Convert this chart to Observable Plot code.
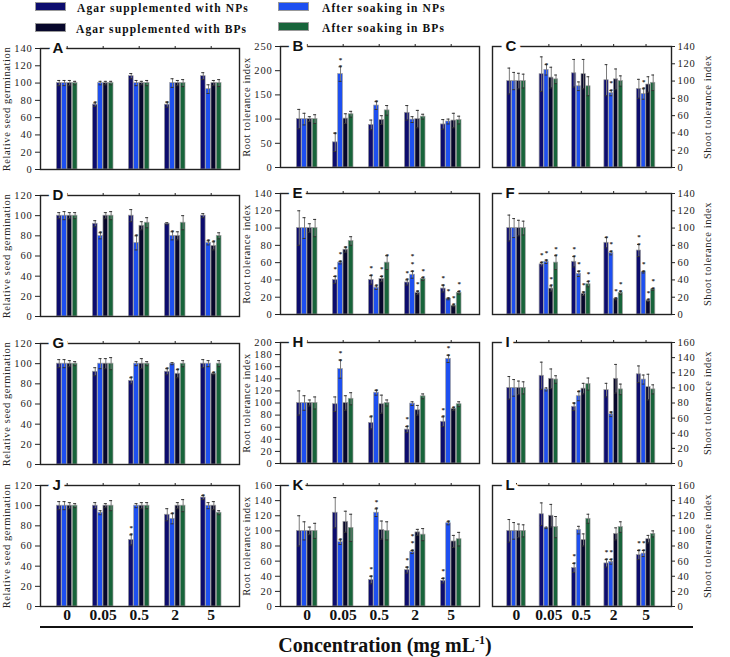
<!DOCTYPE html>
<html><head><meta charset="utf-8">
<script src="https://cdn.jsdelivr.net/npm/d3@7"></script>
<script src="https://cdn.jsdelivr.net/npm/@observablehq/plot@0.6"></script>
<style>
body{margin:0;background:#fff;}
#wrap{position:relative;width:730px;height:657px;overflow:hidden;background:#fff;font-family:"Liberation Serif",serif;}
.pnl{position:absolute;}
.pnl g[aria-label="y-axis tick label"] text{letter-spacing:0.8px;}
.pnl g[aria-label="y-axis label"] text{letter-spacing:0.6px;}
.lg-sw{position:absolute;width:31px;height:9px;border:1px solid #999;box-sizing:border-box;}
.lg-tx{position:absolute;font:bold 11.5px "Liberation Serif",serif;letter-spacing:1.1px;line-height:12px;white-space:nowrap;color:#111;}
#axline{position:absolute;left:40px;top:626px;width:653px;height:0;border-top:2px solid #111;}
#xtitle{position:absolute;left:0;width:770px;top:633px;text-align:center;font:bold 20px "Liberation Serif",serif;color:#111;white-space:nowrap;}
</style></head><body><div id="wrap"></div>
<script>
// ---- categories / series ----
const concentrations = ["0", "0.05", "0.5", "2", "5"];
const series = ["Agar supplemented with NPs", "After soaking in NPs", "Agar supplemented with BPs", "After soaking in BPs"];
const seriesColors = ["#0c0c6e", "#1d4ff0", "#07072b", "#17643a"];
const yLabels = ["Relative seed germination", "Root tolerance index", "Shoot tolerance index"];

// ---- values: [group][series] ----
const A_mean = [[100,100,100,100],[75,100,100,100],[108,100,100,100],[75,100,100,100],[108,93,100,100]];
const A_err  = [[3,3,3,2],[2,2,2,2],[3,3,2,3],[3,5,3,4],[4,5,3,4]];
const A_sig  = [[0,0,0,0],[1,0,0,0],[0,0,0,0],[1,0,0,0],[0,0,0,0]];

const B_mean = [[100,100,100,100],[52,193,101,110],[88,128,98,118],[113,99,100,105],[89,95,97,98]];
const B_err  = [[20,12,5,9],[19,15,10,6],[10,8,9,10],[15,6,18,5],[10,5,15,8]];
const B_sig  = [[0,0,0,0],[1,2,0,0],[0,1,0,0],[0,0,0,0],[0,0,0,0]];

const C_mean = [[100,100,100,100],[108,113,104,102],[109,94,108,94],[101,86,102,100],[91,85,96,98]];
const C_err  = [[15,10,9,8],[20,6,12,5],[16,5,17,11],[18,3,12,6],[11,6,9,9]];
const C_sig  = [[0,0,0,0],[0,1,0,0],[0,0,0,0],[0,2,0,0],[0,2,0,0]];

const D_mean = [[100,100,100,100],[92,80,100,100],[100,73,90,93],[92,80,80,93],[100,73,70,80]];
const D_err  = [[3,4,3,3],[3,3,3,4],[6,7,4,5],[1,4,4,7],[2,2,4,3]];
const D_sig  = [[0,0,0,0],[0,1,0,0],[0,1,0,0],[0,1,0,0],[0,1,1,0]];

const E_mean = [[100,100,100,100],[40,60,75,85],[40,31,41,60],[37,46,25,41],[30,18,10,25]];
const E_err  = [[20,12,5,10],[4,1.5,3,5],[5,2,3,8],[3,4,2,1.5],[4,1,1,1.5]];
const E_sig  = [[0,0,0,0],[2,2,1,0],[2,1,2,1],[2,3,2,2],[2,2,2,2]];

const F_mean = [[100,100,100,100],[58,61,30,60],[61,47,24,35],[83,71,18,25],[74,49,16,29]];
const F_err  = [[15,11,9,8],[2,2,3,8],[6,3,2,3],[6,2,1,2],[7,1,1,1]];
const F_sig  = [[0,0,0,0],[2,2,2,2],[2,2,2,2],[1,2,2,2],[2,2,2,2]];

const G_mean = [[100,100,100,100],[92,100,100,100],[83,100,100,100],[92,100,90,100],[100,100,90,100]];
const G_err  = [[4,4,3,2],[4,5,5,6],[3,2,5,2],[3,1,4,3],[4,3,1,3]];
const G_sig  = [[0,0,0,0],[0,0,0,0],[1,0,0,0],[1,0,1,0],[0,0,1,0]];

const H_mean = [[100,100,100,100],[98,156,100,107],[67,117,98,100],[56,99,88,111],[69,173,90,98]];
const H_err  = [[20,12,5,10],[12,15,12,10],[10,4,15,5],[5,3,8,4],[8,6,2,4]];
const H_sig  = [[0,0,0,0],[0,2,0,0],[1,1,0,0],[2,0,0,0],[2,2,1,0]];

const I_mean = [[100,100,100,100],[116,98,112,111],[75,89,99,105],[97,65,112,98],[118,111,101,98]];
const I_err  = [[15,11,9,8],[18,2,13,5],[5,6,7,8],[9,3,19,7],[11,6,17,6]];
const I_sig  = [[0,0,0,0],[0,0,0,0],[1,1,0,0],[0,1,0,0],[0,0,0,0]];

const J_mean = [[100,100,100,100],[100,93,100,100],[66,100,100,100],[91,87,100,100],[108,100,100,93]];
const J_err  = [[4,4,3,2],[3,2,2,5],[5,2,3,3],[6,5,3,6],[2,3,4,2]];
const J_sig  = [[0,0,0,0],[0,0,0,0],[2,0,0,0],[0,1,0,0],[1,0,0,0]];

const K_mean = [[100,100,100,100],[124,85,112,104],[35,124,101,100],[48,72,98,95],[34,110,86,89]];
const K_err  = [[20,12,5,10],[20,3,14,18],[5,5,12,12],[4,2,4,8],[3,2,8,9]];
const K_sig  = [[0,0,0,0],[0,1,0,0],[2,2,0,0],[2,3,0,0],[2,1,0,0]];

const L_mean = [[100,100,100,100],[122,104,120,105],[51,101,88,116],[57,59,96,105],[68,70,89,96]];
const L_err  = [[15,11,9,8],[15,1,15,14],[6,5,8,6],[5,3,8,7],[6,4,5,4]];
const L_sig  = [[0,0,0,0],[0,0,0,0],[2,0,0,0],[2,2,0,0],[2,2,0,0]];

// panel letters and y-axis maxima / tick steps (row-major)
const panelLetters = ["A","B","C","D","E","F","G","H","I","J","K","L"];
const panelYMax  = [140,250,140, 120,140,140, 120,200,160, 120,160,160];
const panelYStep = [20,50,20, 20,20,20, 20,20,20, 20,20,20];
const panelMeans = [A_mean,B_mean,C_mean,D_mean,E_mean,F_mean,G_mean,H_mean,I_mean,J_mean,K_mean,L_mean];
const panelErrs  = [A_err,B_err,C_err,D_err,E_err,F_err,G_err,H_err,I_err,J_err,K_err,L_err];
const panelSigs  = [A_sig,B_sig,C_sig,D_sig,E_sig,F_sig,G_sig,H_sig,I_sig,J_sig,K_sig,L_sig];

// ---- layout ----
const wrap = document.getElementById("wrap");
const colLeft = [0, 240, 480];
const frameTops = [[48,195,343,485],[46,193,342,485],[46,193,342,485]];
const FH = 121, MT = 12;
const PITCH = 0.147, HALF = 0.066, CAP = 0.042; // bar layout within a concentration group (x units)

function drawPanel(idx) {
  const row = Math.floor(idx / 3), col = idx % 3;
  const mean = panelMeans[idx], err = panelErrs[idx], sig = panelSigs[idx];
  const ymax = panelYMax[idx], step = panelYStep[idx];
  const data = [];
  concentrations.forEach((c, gi) => series.forEach((s, si) =>
    data.push({c, s, pos: gi + (si - 1.5) * PITCH, v: mean[gi][si], e: err[gi][si], n: sig[gi][si]})));
  const right = col === 2, bottom = row === 3;
  const MB = bottom ? 28 : 8;
  const svg = Plot.plot({
    width: right ? 250 : 242,
    height: MT + FH + MB,
    marginTop: MT, marginBottom: MB,
    marginLeft: right ? 12 : 40,
    marginRight: right ? 59 : 3,
    style: {fontFamily: '"Liberation Serif", serif', fontSize: "10px", color: "#222", background: "transparent", overflow: "visible"},
    x: {domain: [-0.741, 4.786], axis: null},
    y: {domain: [0, ymax], axis: null},
    color: {domain: series, range: seriesColors},
    marks: [
      Plot.rectY(data, {x1: d => d.pos - HALF, x2: d => d.pos + HALF, y1: 0, y2: "v", fill: "s", stroke: "#a0a0a0", strokeWidth: 0.7}),
      Plot.ruleX(data, {x: "pos", y1: d => d.v - d.e, y2: d => d.v + d.e, stroke: "#7a7a7a", strokeWidth: 1}),
      Plot.ruleY(data, {x1: d => d.pos - CAP, x2: d => d.pos + CAP, y: d => d.v + d.e, stroke: "#333"}),
      Plot.ruleY(data, {x1: d => d.pos - CAP, x2: d => d.pos + CAP, y: d => d.v - d.e, stroke: "#333"}),
      Plot.text(data.filter(d => d.n > 0), {x: "pos", y: d => d.v + d.e,
        text: d => Array(d.n).fill("*").join("\n"), lineAnchor: "bottom", lineHeight: 1.1,
        dy: 2.5, fontSize: 7, fontWeight: "bold", fill: "#222"}),
      Plot.frame({stroke: "#222", strokeWidth: 1.4}),
      Plot.axisY({anchor: right ? "right" : "left", ticks: d3.range(0, ymax + step / 2, step),
        tickSize: right ? 3 : 5, tickPadding: 3, fontSize: 10.5,
        label: yLabels[col], labelAnchor: "center", labelOffset: right ? 39 : 38, labelArrow: "none"}),
      Plot.axisX({anchor: "top", ticks: d3.range(concentrations.length), tickSize: 3, tickFormat: () => "", label: null}),
      bottom ? Plot.axisX({anchor: "bottom", ticks: d3.range(concentrations.length), tickFormat: i => concentrations[i],
        tickSize: 0, tickPadding: 2, fontSize: 15.5, fontWeight: "bold", label: null, fill: "#111"}) : null,
      Plot.text([panelLetters[idx]], {frameAnchor: "top-left", text: d => d,
        dx: right ? 13 : 12, textAnchor: "start", lineAnchor: "middle",
        fontFamily: '"Liberation Sans", Arial, sans-serif', fontWeight: "bold", fontSize: 15,
        fill: "#111", stroke: "white", strokeWidth: 9, paintOrder: "stroke"})
    ]
  });
  svg.classList.add("pnl");
  svg.style.left = colLeft[col] + "px";
  svg.style.top = (frameTops[col][row] - MT) + "px";
  wrap.appendChild(svg);
}
for (let i = 0; i < 12; i++) drawPanel(i);

// ---- legend (2 x 2) ----
const legendPos = [[35, 2, 77], [278, 2, 322], [35, 23, 76], [278, 22, 322]];
series.forEach((s, i) => {
  const [sx, sy, tx] = legendPos[i];
  const sw = document.createElement("div");
  sw.className = "lg-sw"; sw.style.left = sx + "px"; sw.style.top = sy + "px";
  sw.style.background = seriesColors[i];
  wrap.appendChild(sw);
  const t = document.createElement("div");
  t.className = "lg-tx"; t.style.left = tx + "px"; t.style.top = (sy) + "px";
  t.textContent = s;
  wrap.appendChild(t);
});

// ---- shared x-axis title ----
const line = document.createElement("div"); line.id = "axline"; wrap.appendChild(line);
const xt = document.createElement("div"); xt.id = "xtitle";
xt.innerHTML = "Concentration (mg mL<sup style=\"font-size:12px\">-1</sup>)";
wrap.appendChild(xt);
</script></body></html>
